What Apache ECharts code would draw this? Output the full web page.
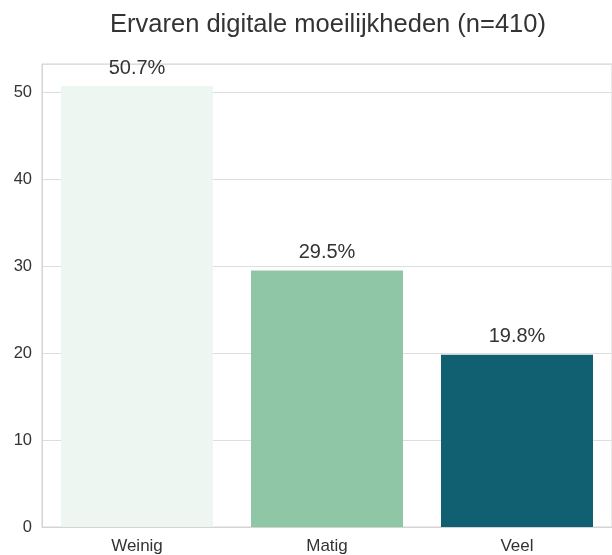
<!DOCTYPE html>
<html>
<head>
<meta charset="utf-8">
<script src="https://cdn.jsdelivr.net/npm/echarts@6/dist/echarts.min.js"></script>
<style>
  html, body { margin: 0; padding: 0; background: #fff; }
  #chart { width: 612px; height: 555px; }
</style>
</head>
<body>
<div id="chart"></div>
<script>
// Perceived digital difficulties, share of respondents (%)
const categories = ['Weinig', 'Matig', 'Veel'];
const percentages = [50.7, 29.5, 19.8];
const barColors = ['#edf6f1', '#8fc7a6', '#116072'];
const yTicks = [0, 10, 20, 30, 40, 50];
const titleText = 'Ervaren digitale moeilijkheden (n=410)';

const font = '"Liberation Sans", Arial, sans-serif';
const spine = '#d4d4d4';

const chart = echarts.init(document.getElementById('chart'), null, { renderer: 'canvas' });

chart.setOption({
  backgroundColor: '#ffffff',
  animation: false,
  title: {
    text: titleText,
    left: 323,
    textAlign: 'center',
    top: 7,
    textStyle: { fontFamily: font, fontSize: 25.5, fontWeight: 'normal', color: '#333333' }
  },
  grid: { left: 42, right: -1, top: 64, bottom: 28, containLabel: false, show: true, borderColor: spine, borderWidth: 1 },
  xAxis: {
    type: 'category',
    data: categories,
    boundaryGap: true,
    axisLine: { show: true, lineStyle: { color: spine } },
    axisTick: { show: false },
    splitLine: { show: false },
    axisLabel: { fontFamily: font, fontSize: 17, color: '#333333', margin: 11 }
  },
  yAxis: {
    type: 'value',
    min: 0,
    max: 53.235,
    interval: 10,
    axisLine: { show: true, lineStyle: { color: spine } },
    axisTick: { show: false },
    splitLine: { show: true, lineStyle: { color: '#dedede', width: 1 } },
    axisLabel: {
      fontFamily: font, fontSize: 16.5, color: '#333333', margin: 10,
      formatter: function (v) { return yTicks.indexOf(v) >= 0 ? String(v) : ''; },
      showMaxLabel: false
    }
  },
  series: [{
    type: 'bar',
    barWidth: '80%',
    data: percentages.map(function (v, i) {
      return { value: v, itemStyle: { color: barColors[i] } };
    }),
    label: {
      show: true,
      position: 'top',
      distance: 8,
      fontFamily: font,
      fontSize: 20,
      color: '#333333',
      formatter: function (p) { return p.value.toFixed(1) + '%'; }
    }
  }]
});
</script>
</body>
</html>
